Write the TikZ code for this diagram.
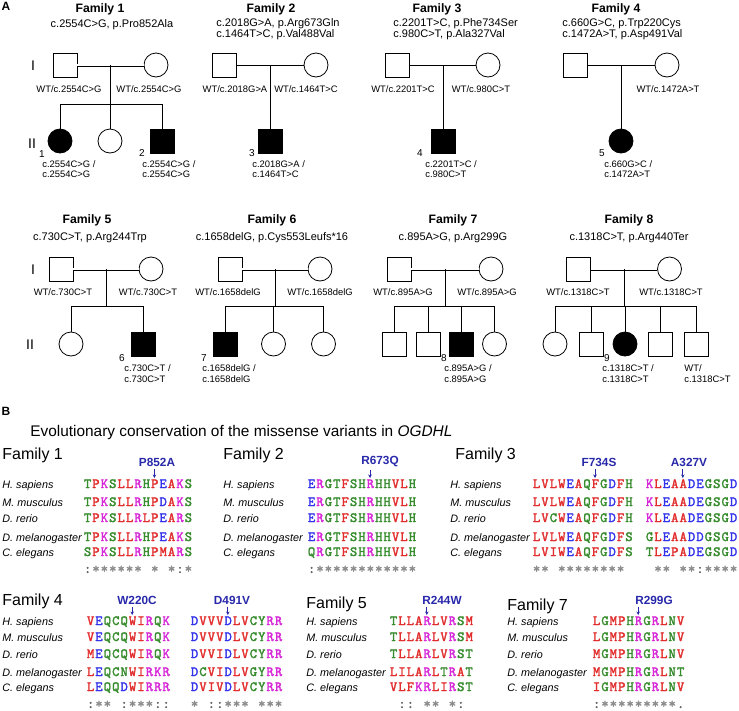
\documentclass[tikz,border=0pt]{standalone}
\usepackage{fontspec}
\setmainfont{Liberation Sans}
\newfontfamily\seqfont[FakeBold=2]{lmmono10-regular.otf}
\usetikzlibrary{calc,arrows.meta}

\definecolor{aared}{RGB}{225,45,45}
\definecolor{aablue}{RGB}{50,50,235}
\definecolor{aamag}{RGB}{215,40,215}
\definecolor{aagreen}{RGB}{55,140,45}
\definecolor{consgray}{RGB}{140,140,140}
\definecolor{consdark}{RGB}{95,95,95}
\definecolor{varblue}{RGB}{40,40,170}

% one column of the alignment
\newcommand\seqcell[2]{\makebox[8.4pt][c]{\textcolor{#1}{#2}}}
% clustal colours for the residues
\foreach \rc in {A,V,F,P,M,I,L,W}{\expandafter\xdef\csname res\rc\endcsname{\noexpand\seqcell{aared}{\rc}}}
\foreach \rc in {D,E}{\expandafter\xdef\csname res\rc\endcsname{\noexpand\seqcell{aablue}{\rc}}}
\foreach \rc in {R,K}{\expandafter\xdef\csname res\rc\endcsname{\noexpand\seqcell{aamag}{\rc}}}
\foreach \rc in {S,T,Y,H,C,N,G,Q}{\expandafter\xdef\csname res\rc\endcsname{\noexpand\seqcell{aagreen}{\rc}}}
% conservation marks, x is a blank column
\expandafter\def\csname res*\endcsname{\seqcell{consgray}{*}}
\expandafter\def\csname res:\endcsname{\seqcell{consdark}{:}}
\expandafter\def\csname res.\endcsname{\seqcell{consdark}{.}}
\expandafter\def\csname resx\endcsname{\makebox[8.4pt]{}}
\newcommand\seqloop[1]{\ifx#1\relax\else\csname res#1\endcsname\expandafter\seqloop\fi}
\newcommand\seqstr[1]{\edef\seqtmp{#1}\expandafter\seqloop\seqtmp\relax}

\begin{document}
\begin{tikzpicture}[x=1pt, y=-1pt, line width=0.8pt,
    male/.style={draw, rectangle, minimum size=24pt, inner sep=0pt},
    female/.style={draw, circle, minimum size=24pt, inner sep=0pt},
    aff/.style={fill=black},
    consang/.style={double, double distance=1.4pt},
    fam/.style={font=\bfseries\fontsize{12.2}{14}\selectfont, inner sep=0pt},
    mutline/.style={font=\fontsize{11}{11}\selectfont, inner sep=0pt, align=left},
    gt/.style={font=\fontsize{9.4}{10.5}\selectfont, inner sep=0pt, align=left},
    idn/.style={font=\fontsize{10}{10}\selectfont, inner sep=0pt},
    gen/.style={font=\fontsize{14}{14}\selectfont, inner sep=0pt},
    panel/.style={font=\bfseries\fontsize{12}{12}\selectfont, inner sep=0pt},
    famB/.style={font=\fontsize{16}{16}\selectfont, anchor=west, inner sep=0pt},
    species/.style={font=\itshape\fontsize{10.8}{10.8}\selectfont, anchor=base west, inner sep=0pt},
    seq/.style={font=\seqfont\fontsize{14}{14}\selectfont, anchor=base west, inner sep=0pt},
    mut/.style={font=\bfseries\fontsize{11.8}{11.8}\selectfont, text=varblue, inner sep=0pt},
    mutarrow/.style={-{Stealth[length=3.5pt,width=3.5pt]}, draw=varblue, line width=0.9pt}]
    \useasboundingbox (0,0) rectangle (739,710);

    % ---------- panel A ----------
    \node[panel] (pA) at (6,6) {A};
    \node[gen] (g1a) at (33,66) {I};
    \node[gen] (g2a) at (32,144) {II};
    \node[gen] (g1b) at (33,270) {I};
    \node[gen] (g2b) at (30,345) {II};

    % Family 1
    \node[fam] (t1) at (100,9) {Family 1};
    \node[mutline] (m1) at (112,25) {c.2554C>G, p.Pro852Ala};
    \node[male] (f1fa) at (65,65) {};
    \node[female] (f1mo) at (156,65) {};
    \draw[consang] (f1fa) -- (f1mo);
    \node[female, aff] (f1c1) at (60,141) {};
    \node[female] (f1c2) at (110,141) {};
    \node[male, aff] (f1c3) at (162,141) {};
    \coordinate (f1d) at ($(f1fa.east)!0.5!(f1mo.west)$);
    \draw (f1d) -- ++(0,39) coordinate (f1s);
    \draw (f1c1.north) -- (f1c1.north |- f1s) -- (f1c3.north |- f1s) -- (f1c3.north);
    \draw (f1c2.north) -- (f1c2.north |- f1s);
    \node[gt] (f1g1) at (69,89) {WT/c.2554C>G};
    \node[gt] (f1g2) at (149,89) {WT/c.2554C>G};
    \node[idn] (n1) at (42,154) {1};
    \node[gt, anchor=west] (f1g3) at (42,169) {c.2554C>G /\\c.2554C>G};
    \node[idn] (n2) at (142,153) {2};
    \node[gt, anchor=west] (f1g4) at (142,169) {c.2554C>G /\\c.2554C>G};

    % Family 2
    \node[fam] (t2) at (271,9) {Family 2};
    \node[mutline, anchor=west] (m2) at (216,29) {c.2018G>A, p.Arg673Gln\\c.1464T>C, p.Val488Val};
    \node[male] (f2fa) at (224.5,65) {};
    \node[female] (f2mo) at (316,65) {};
    \draw (f2fa) -- (f2mo);
    \node[male, aff] (f2c1) at (270.5,141) {};
    \draw (f2c1.north |- f2fa) -- (f2c1.north);
    \node[gt] (f2g1) at (235,89) {WT/c.2018G>A};
    \node[gt] (f2g2) at (306,89) {WT/c.1464T>C};
    \node[idn] (n3) at (252,153) {3};
    \node[gt, anchor=west] (f2g3) at (252,169) {c.2018G>A /\\c.1464T>C};

    % Family 3
    \node[fam] (t3) at (437,9) {Family 3};
    \node[mutline, anchor=west] (m3) at (393,29) {c.2201T>C, p.Phe734Ser\\c.980C>T, p.Ala327Val};
    \node[male] (f3fa) at (397.5,65) {};
    \node[female] (f3mo) at (488,65) {};
    \draw (f3fa) -- (f3mo);
    \node[male, aff] (f3c1) at (443.5,141) {};
    \draw (f3c1.north |- f3fa) -- (f3c1.north);
    \node[gt] (f3g1) at (403,89) {WT/c.2201T>C};
    \node[gt] (f3g2) at (481,89) {WT/c.980C>T};
    \node[idn] (n4) at (420,153) {4};
    \node[gt, anchor=west] (f3g3) at (425,169) {c.2201T>C /\\c.980C>T};

    % Family 4
    \node[fam] (t4) at (616,9) {Family 4};
    \node[mutline, anchor=west] (m4) at (562,29) {c.660G>C, p.Trp220Cys\\c.1472A>T, p.Asp491Val};
    \node[male] (f4fa) at (575.5,65) {};
    \node[female] (f4mo) at (667,65) {};
    \draw (f4fa) -- (f4mo);
    \node[female, aff] (f4c1) at (621,141) {};
    \draw (f4c1.north |- f4fa) -- (f4c1.north);
    \node[gt] (f4g2) at (668,89) {WT/c.1472A>T};
    \node[idn] (n5) at (602,153) {5};
    \node[gt, anchor=west] (f4g3) at (604,169) {c.660G>C /\\c.1472A>T};

    % Family 5
    \node[fam] (t5) at (87,220) {Family 5};
    \node[mutline] (m5) at (90,238) {c.730C>T, p.Arg244Trp};
    \node[male] (f5fa) at (61,269) {};
    \node[female] (f5mo) at (151,269) {};
    \draw[consang] (f5fa) -- (f5mo);
    \node[female] (f5c1) at (71,344) {};
    \node[male, aff] (f5c2) at (143,344) {};
    \coordinate (f5d) at ($(f5fa.east)!0.5!(f5mo.west)$);
    \draw (f5d) -- ++(0,37) coordinate (f5s);
    \draw (f5c1.north) -- (f5c1.north |- f5s) -- (f5c2.north |- f5s) -- (f5c2.north);
    \node[gt] (f5g1) at (63,292) {WT/c.730C>T};
    \node[gt] (f5g2) at (148,292) {WT/c.730C>T};
    \node[idn] (n6) at (122,358) {6};
    \node[gt, anchor=west] (f5g3) at (124,373.5) {c.730C>T /\\c.730C>T};

    % Family 6
    \node[fam] (t6) at (272,220) {Family 6};
    \node[mutline] (m6) at (272,238) {c.1658delG, p.Cys553Leufs*16};
    \node[male] (f6fa) at (230,269) {};
    \node[female] (f6mo) at (320,269) {};
    \draw[consang] (f6fa) -- (f6mo);
    \node[male, aff] (f6c1) at (225,344) {};
    \node[female] (f6c2) at (273.5,344) {};
    \node[female] (f6c3) at (323.5,344) {};
    \coordinate (f6d) at ($(f6fa.east)!0.5!(f6mo.west)$);
    \draw (f6d) -- ++(0,37) coordinate (f6s);
    \draw (f6c1.north) -- (f6c1.north |- f6s) -- (f6c3.north |- f6s) -- (f6c3.north);
    \draw (f6c2.north) -- (f6c2.north |- f6s);
    \node[gt] (f6g1) at (228,292) {WT/c.1658delG};
    \node[gt] (f6g2) at (320,292) {WT/c.1658delG};
    \node[idn] (n7) at (204,358) {7};
    \node[gt, anchor=west] (f6g3) at (202,373.5) {c.1658delG /\\c.1658delG};

    % Family 7
    \node[fam] (t7) at (453,220) {Family 7};
    \node[mutline] (m7) at (453,238) {c.895A>G, p.Arg299G};
    \node[male] (f7fa) at (399,269) {};
    \node[female] (f7mo) at (491,269) {};
    \draw[consang] (f7fa) -- (f7mo);
    \node[male] (f7c1) at (394,344) {};
    \node[male] (f7c2) at (428,344) {};
    \node[male, aff] (f7c3) at (461,344) {};
    \node[female] (f7c4) at (494.5,344) {};
    \coordinate (f7d) at ($(f7fa.east)!0.5!(f7mo.west)$);
    \draw (f7d) -- ++(0,37) coordinate (f7s);
    \draw (f7c1.north) -- (f7c1.north |- f7s) -- (f7c4.north |- f7s) -- (f7c4.north);
    \foreach \c in {f7c2,f7c3}
        \draw (\c.north) -- (\c.north |- f7s);
    \node[gt] (f7g1) at (403,292) {WT/c.895A>G};
    \node[gt] (f7g2) at (487,292) {WT/c.895A>G};
    \node[idn] (n8) at (444,358) {8};
    \node[gt, anchor=west] (f7g3) at (444,373.5) {c.895A>G /\\c.895A>G};

    % Family 8
    \node[fam] (t8) at (629,220) {Family 8};
    \node[mutline] (m8) at (629,238) {c.1318C>T, p.Arg440Ter};
    \node[male] (f8fa) at (578.5,269) {};
    \node[female] (f8mo) at (669.5,269) {};
    \draw[consang] (f8fa) -- (f8mo);
    \node[female] (f8c1) at (555,344) {};
    \node[male] (f8c2) at (591,344) {};
    \node[female, aff] (f8c3) at (625,344) {};
    \node[male] (f8c4) at (660,344) {};
    \node[male] (f8c5) at (696,344) {};
    \coordinate (f8d) at ($(f8fa.east)!0.5!(f8mo.west)$);
    \draw (f8d) -- ++(0,37) coordinate (f8s);
    \draw (f8c1.north) -- (f8c1.north |- f8s) -- (f8c5.north |- f8s) -- (f8c5.north);
    \foreach \c in {f8c2,f8c3,f8c4}
        \draw (\c.north) -- (\c.north |- f8s);
    \node[gt] (f8g1) at (578,292) {WT/c.1318C>T};
    \node[gt] (f8g2) at (671,292) {WT/c.1318C>T};
    \node[idn] (n9) at (607,358) {9};
    \node[gt, anchor=west] (f8g3) at (602,373.5) {c.1318C>T /\\c.1318C>T};
    \node[gt, anchor=west] (f8g4) at (684,373.5) {WT/\\c.1318C>T};

    % ---------- panel B ----------
    \node[panel] (pB) at (6,411) {B};
    \node[font=\fontsize{15.4}{15.4}\selectfont, anchor=west, inner sep=0pt] (tB) at (30,433)
        {Evolutionary conservation of the missense variants in \textit{OGDHL}};

    % species names
    \foreach \x in {2,223,450}
        \foreach \sp/\y [count=\k] in {H. sapiens/488, M. musculus/506, D. rerio/522, D. melanogaster/541, C. elegans/556}
            \node[species] (sp\x-\k) at (\x,\y) {\sp};
    \foreach \x in {2,306,507}
        \foreach \sp/\y [count=\k] in {H. sapiens/625, M. musculus/641, D. rerio/658, D. melanogaster/676, C. elegans/691}
            \node[species] (sp\x-\k) at (\x,\y) {\sp};

    \node[famB] (b1) at (2,455) {Family 1};
    \node[famB] (b2) at (223,455) {Family 2};
    \node[famB] (b3) at (455,455) {Family 3};
    \node[famB] (b4) at (2,601) {Family 4};
    \node[famB] (b5) at (306,604) {Family 5};
    \node[famB] (b7) at (507,606) {Family 7};

    % Family 1
    \foreach \s/\y [count=\k] in {TPKSLLRHPEAKS/488, TPKSLLRHPDAKS/506, TPKSLLRLPEARS/522, TPKSLLRHPEAKS/541, SPKSLLRHPMARS/556}
        \node[seq] (q1-\k) at (83,\y) {\seqstr{\s}};
    \node[seq] (q1-c) at (83,573) {\seqstr{:******x*x*:*}};
    \node[mut] (v1) at (157,462) {P852A};
    \coordinate (v1t) at ($(q1-1.base west)+(71.4,-10)$);
    \draw[mutarrow] (v1.south -| v1t) ++(0,2) -- (v1t);

    % Family 2
    \foreach \s/\y [count=\k] in {ERGTFSHRHHVLH/488, ERGTFSHRHHVLH/506, ERGTFSHRHHVLH/522, ERGTFSHRHHVLH/541, QRGTFSHRHHVLH/556}
        \node[seq] (q2-\k) at (307,\y) {\seqstr{\s}};
    \node[seq] (q2-c) at (307,573) {\seqstr{:************}};
    \node[mut] (v2) at (380,462) {R673Q};
    \coordinate (v2t) at ($(q2-1.base west)+(63,-10)$);
    \draw[mutarrow] (v2.south -| v2t) ++(0,2) -- (v2t);

    % Family 3
    \foreach \s/\y [count=\k] in {LVLWEAQFGDFH/488, LVLWEAQFGDFH/506, LVCWEAQFGDFH/522, LVLWEAQFGDFS/541, LVIWEAQFGDFS/556}
        \node[seq] (q3-\k) at (532,\y) {\seqstr{\s}};
    \node[seq] (q3-c) at (532,573) {\seqstr{**x********x}};
    \node[mut] (v3) at (599,462) {F734S};
    \coordinate (v3t) at ($(q3-1.base west)+(63,-10)$);
    \draw[mutarrow] (v3.south -| v3t) ++(0,2) -- (v3t);
    \foreach \s/\y [count=\k] in {KLEAADEGSGD/488, KLEAADEGSGD/506, KLEAADEGSGD/522, GLEAADDGSGD/541, TLEPADEGSGD/556}
        \node[seq] (r3-\k) at (645,\y) {\seqstr{\s}};
    \node[seq] (r3-c) at (645,573) {\seqstr{x**x**:****}};
    \node[mut] (w3) at (689,462) {A327V};
    \coordinate (w3t) at ($(r3-1.base west)+(37.8,-10)$);
    \draw[mutarrow] (w3.south -| w3t) ++(0,2) -- (w3t);

    % Family 4
    \foreach \s/\y [count=\k] in {VEQCQWIRQK/625, VEQCQWIRQK/641, MEQCQWIRQK/658, LEQCNWIRKR/676, LEQQDWIRRR/691}
        \node[seq] (q4-\k) at (86,\y) {\seqstr{\s}};
    \node[seq] (q4-c) at (86,708) {\seqstr{:**x:***::}};
    \node[mut] (v4) at (137,600) {W220C};
    \coordinate (v4t) at ($(q4-1.base west)+(46.2,-10)$);
    \draw[mutarrow] (v4.south -| v4t) ++(0,2) -- (v4t);
    \foreach \s/\y [count=\k] in {DVVVDLVCYRR/625, DVVVDLVCYRR/641, DVVIDLVCYRR/658, DCVIDLVGYRR/676, DVIVDLVCYRR/691}
        \node[seq] (r4-\k) at (190,\y) {\seqstr{\s}};
    \node[seq] (r4-c) at (190,708) {\seqstr{*x::***x***}};
    \node[mut] (w4) at (232,600) {D491V};
    \coordinate (w4t) at ($(r4-1.base west)+(37.8,-10)$);
    \draw[mutarrow] (w4.south -| w4t) ++(0,2) -- (w4t);

    % Family 5
    \foreach \s/\y [count=\k] in {TLLARLVRSM/625, TLLARLVRSM/641, TLLARLVRST/658, LILARLTRAT/676, VLFKRLIRST/691}
        \node[seq] (q5-\k) at (389,\y) {\seqstr{\s}};
    \node[seq] (q5-c) at (389,708) {\seqstr{x::x**x*:x}};
    \node[mut] (v5) at (442,600) {R244W};
    \coordinate (v5t) at ($(q5-1.base west)+(37.8,-10)$);
    \draw[mutarrow] (v5.south -| v5t) ++(0,2) -- (v5t);

    % Family 7
    \foreach \s/\y [count=\k] in {LGMPHRGRLNV/625, LGMPHRGRLNV/641, MGMPHRGRLNV/658, MGMPHRGRLNT/676, IGMPHRGRLNV/691}
        \node[seq] (q7-\k) at (592,\y) {\seqstr{\s}};
    \node[seq] (q7-c) at (592,708) {\seqstr{:*********.}};
    \node[mut] (v7) at (654,600) {R299G};
    \coordinate (v7t) at ($(q7-1.base west)+(46.2,-10)$);
    \draw[mutarrow] (v7.south -| v7t) ++(0,2) -- (v7t);
\end{tikzpicture}
\end{document}
